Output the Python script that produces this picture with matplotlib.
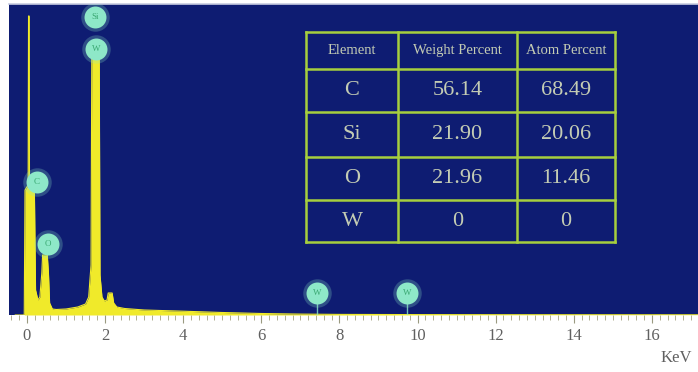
import numpy as np
import matplotlib
matplotlib.use("Agg")
import matplotlib.pyplot as plt
from matplotlib.ticker import MultipleLocator

plt.rcParams["font.family"] = ["Liberation Serif", "DejaVu Serif"]

# EDS spectrum, energy (keV) vs counts
energy = [-0.30, -0.07, -0.05, 0.03, 0.040, 0.055, 0.065, 0.16, 0.19, 0.22,
          0.28, 0.33, 0.38, 0.40, 0.52, 0.55, 0.58, 0.65, 0.75, 1.00, 1.30, 1.50, 1.58,
          1.64, 1.66, 1.85, 1.87, 1.92, 1.98, 2.05, 2.08, 2.18, 2.22, 2.30, 2.50,
          3.00, 4.00, 5.00, 6.00, 7.00, 8.00, 10.0, 12.0, 17.5]
counts = [0, 0, 1250, 1300, 2990, 2990, 1300, 1300, 1250, 250,
          150, 180, 420, 600, 600, 420, 120, 60, 55, 60, 80, 110, 180,
          500, 2650, 2650, 400, 180, 140, 150, 220, 220, 120, 80, 65,
          50, 38, 25, 15, 9, 6, 4, 3, 2]

# element markers: label, energy, height
marker_labels = ["Si", "W", "C", "O", "W", "W"]
marker_energy = [1.74, 1.77, 0.26, 0.54, 7.42, 9.73]
marker_height = [2980, 2660, 1330, 710, 220, 220]

# quantification table
elements = ["C", "Si", "O", "W"]
weight_pct = [56.14, 21.90, 21.96, 0]
atom_pct = [68.49, 20.06, 11.46, 0]
headers = ["Element", "Weight Percent", "Atom Percent"]

BLUE = "#0e1c72"
YELLOW = "#f0ea2a"
MINT = "#8ee8c8"
GRID = "#a6cf3e"

fig = plt.figure(figsize=(6.98, 3.72), dpi=100)
fig.patch.set_facecolor("white")
ax = fig.add_axes([9 / 698, 1 - 315 / 372, 689 / 698, 311 / 372])
ax.set_facecolor(BLUE)

ax.fill_between(energy, counts, 0, color=YELLOW, lw=0)
ax.plot(energy, counts, color=YELLOW, lw=0.8)

# stems under the W L-line markers
for lab, e, h in zip(marker_labels, marker_energy, marker_height):
    if h < 500:
        ax.vlines(e, 0, h, color=MINT, lw=1.0, alpha=0.8)

# glowing element markers
ax.scatter(marker_energy, marker_height, s=420, color=MINT, alpha=0.25, lw=0, zorder=4)
ax.scatter(marker_energy, marker_height, s=250, color=MINT, lw=0, zorder=5)
for lab, e, h in zip(marker_labels, marker_energy, marker_height):
    ax.text(e, h, lab, fontsize=6.5, color="#3aa872", ha="center", va="center", zorder=6)

ax.set_xlim(-0.46, 17.18)
ax.set_ylim(0, 3110)
ax.set_yticks([])
ax.xaxis.set_major_locator(MultipleLocator(2))
ax.xaxis.set_minor_locator(MultipleLocator(0.2))
ax.tick_params(axis="x", which="major", length=6, width=0.8, color="#9a9a80",
               labelsize=12, labelcolor="#606060", pad=3)
ax.tick_params(axis="x", which="minor", length=3.5, width=0.7, color="#b0b090")
for s in ["left", "right", "bottom"]:
    ax.spines[s].set_visible(False)
ax.spines["top"].set_color("#c8cce0")
ax.spines["top"].set_linewidth(1.2)

fig.text(676 / 698, 1 - 358 / 372, "KeV", fontsize=12, color="#606060",
         ha="center", va="center")

# table drawn in axes coordinates
x0, x1 = (306 - 9) / 689, (615 - 9) / 689
col_px = [306, 398, 517, 615]
row_px = [32, 69, 112, 157, 200, 242]
cell_text = [headers] + [[el, f"{w:.2f}" if w else "0", f"{a:.2f}" if a else "0"]
                         for el, w, a in zip(elements, weight_pct, atom_pct)]
for r in range(len(row_px) - 1):
    ytop = (315 - row_px[r]) / 311
    ybot = (315 - row_px[r + 1]) / 311
    for c in range(3):
        xl = (col_px[c] - 9) / 689
        xr = (col_px[c + 1] - 9) / 689
        fs = 10.5 if r == 0 else 16
        ax.text((xl + xr) / 2, (ytop + ybot) / 2, cell_text[r][c], transform=ax.transAxes,
                ha="center", va="center", fontsize=fs, color="#c4ccb4", zorder=7,
                clip_on=False)
for yp in row_px:
    y = (315 - yp) / 311
    ax.plot([x0, x1], [y, y], transform=ax.transAxes, color=GRID, lw=1.8, zorder=8)
for xp in col_px:
    x = (xp - 9) / 689
    ax.plot([x, x], [(315 - row_px[0]) / 311, (315 - row_px[-1]) / 311],
            transform=ax.transAxes, color=GRID, lw=1.8, zorder=8)

fig.savefig("out.png", dpi=100, facecolor=fig.get_facecolor())
